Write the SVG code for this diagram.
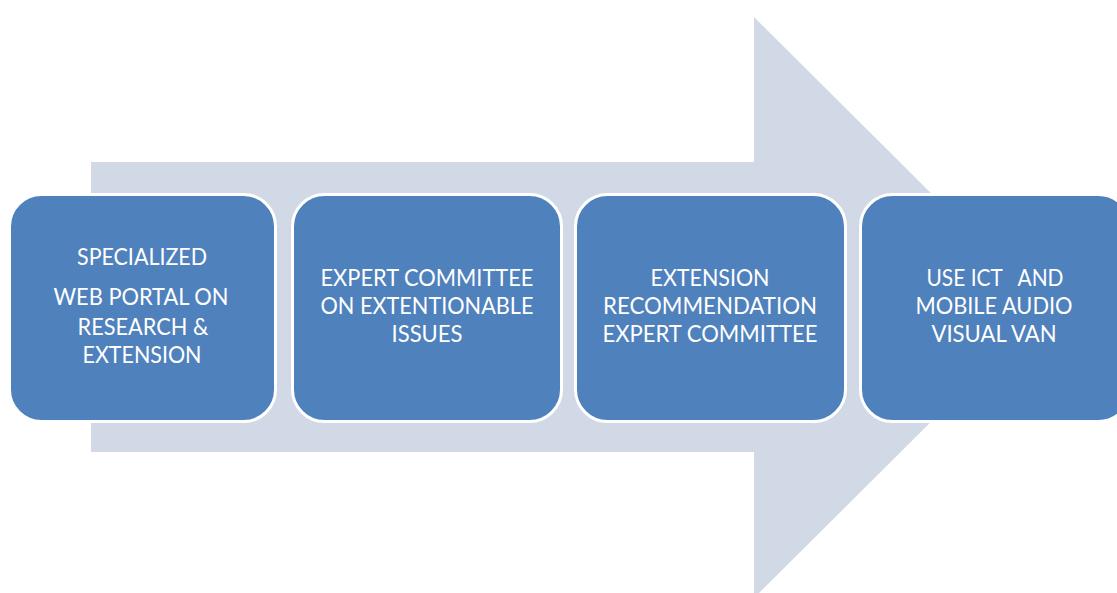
<svg xmlns="http://www.w3.org/2000/svg" width="1117" height="593" viewBox="0 0 1117 593">
  <style>
    .step { fill: #4f81bd; stroke: #ffffff; stroke-width: 3; }
    .label { fill: #ffffff; font-family: Lato, "Open Sans", "Liberation Sans", sans-serif; font-size: 22.5px; text-anchor: middle; }
  </style>
  <rect width="1117" height="593" fill="#ffffff"/>

  <!-- Background process arrow -->
  <g id="flow-arrow">
    <path d="M91,162 L754,162 L754,17 L1046,307.5 L754,598 L754,452 L91,452 Z" fill="#d1d9e7"/>
  </g>

  <g id="step-1">
    <rect class="step" x="9.5" y="194.5" width="266" height="227" rx="32" ry="32"/>
    <text class="label" x="142" y="265" textLength="130" lengthAdjust="spacingAndGlyphs">SPECIALIZED</text>
    <text class="label" x="141" y="305" textLength="175" lengthAdjust="spacingAndGlyphs">WEB PORTAL ON</text>
    <text class="label" x="143" y="335" textLength="131" lengthAdjust="spacingAndGlyphs">RESEARCH &amp;</text>
    <text class="label" x="142" y="363" textLength="119" lengthAdjust="spacingAndGlyphs">EXTENSION</text>
  </g>

  <g id="step-2">
    <rect class="step" x="292.5" y="194.5" width="269" height="227" rx="32" ry="32"/>
    <text class="label" x="427" y="286" textLength="213" lengthAdjust="spacingAndGlyphs">EXPERT COMMITTEE</text>
    <text class="label" x="427" y="314" textLength="213" lengthAdjust="spacingAndGlyphs">ON EXTENTIONABLE</text>
    <text class="label" x="427" y="342" textLength="71" lengthAdjust="spacingAndGlyphs">ISSUES</text>
  </g>

  <g id="step-3">
    <rect class="step" x="575.5" y="194.5" width="270" height="227" rx="32" ry="32"/>
    <text class="label" x="710" y="286" textLength="119" lengthAdjust="spacingAndGlyphs">EXTENSION</text>
    <text class="label" x="710" y="314" textLength="214" lengthAdjust="spacingAndGlyphs">RECOMMENDATION</text>
    <text class="label" x="710" y="342" textLength="215" lengthAdjust="spacingAndGlyphs">EXPERT COMMITTEE</text>
  </g>

  <g id="step-4">
    <rect class="step" x="860.5" y="194.5" width="270" height="227" rx="32" ry="32"/>
    <text class="label" x="995" y="286" textLength="137" lengthAdjust="spacingAndGlyphs" xml:space="preserve">USE ICT   AND</text>
    <text class="label" x="994" y="314" textLength="157" lengthAdjust="spacingAndGlyphs">MOBILE AUDIO</text>
    <text class="label" x="994" y="342" textLength="125" lengthAdjust="spacingAndGlyphs">VISUAL VAN</text>
  </g>

  <g id="connectors"></g>
</svg>
